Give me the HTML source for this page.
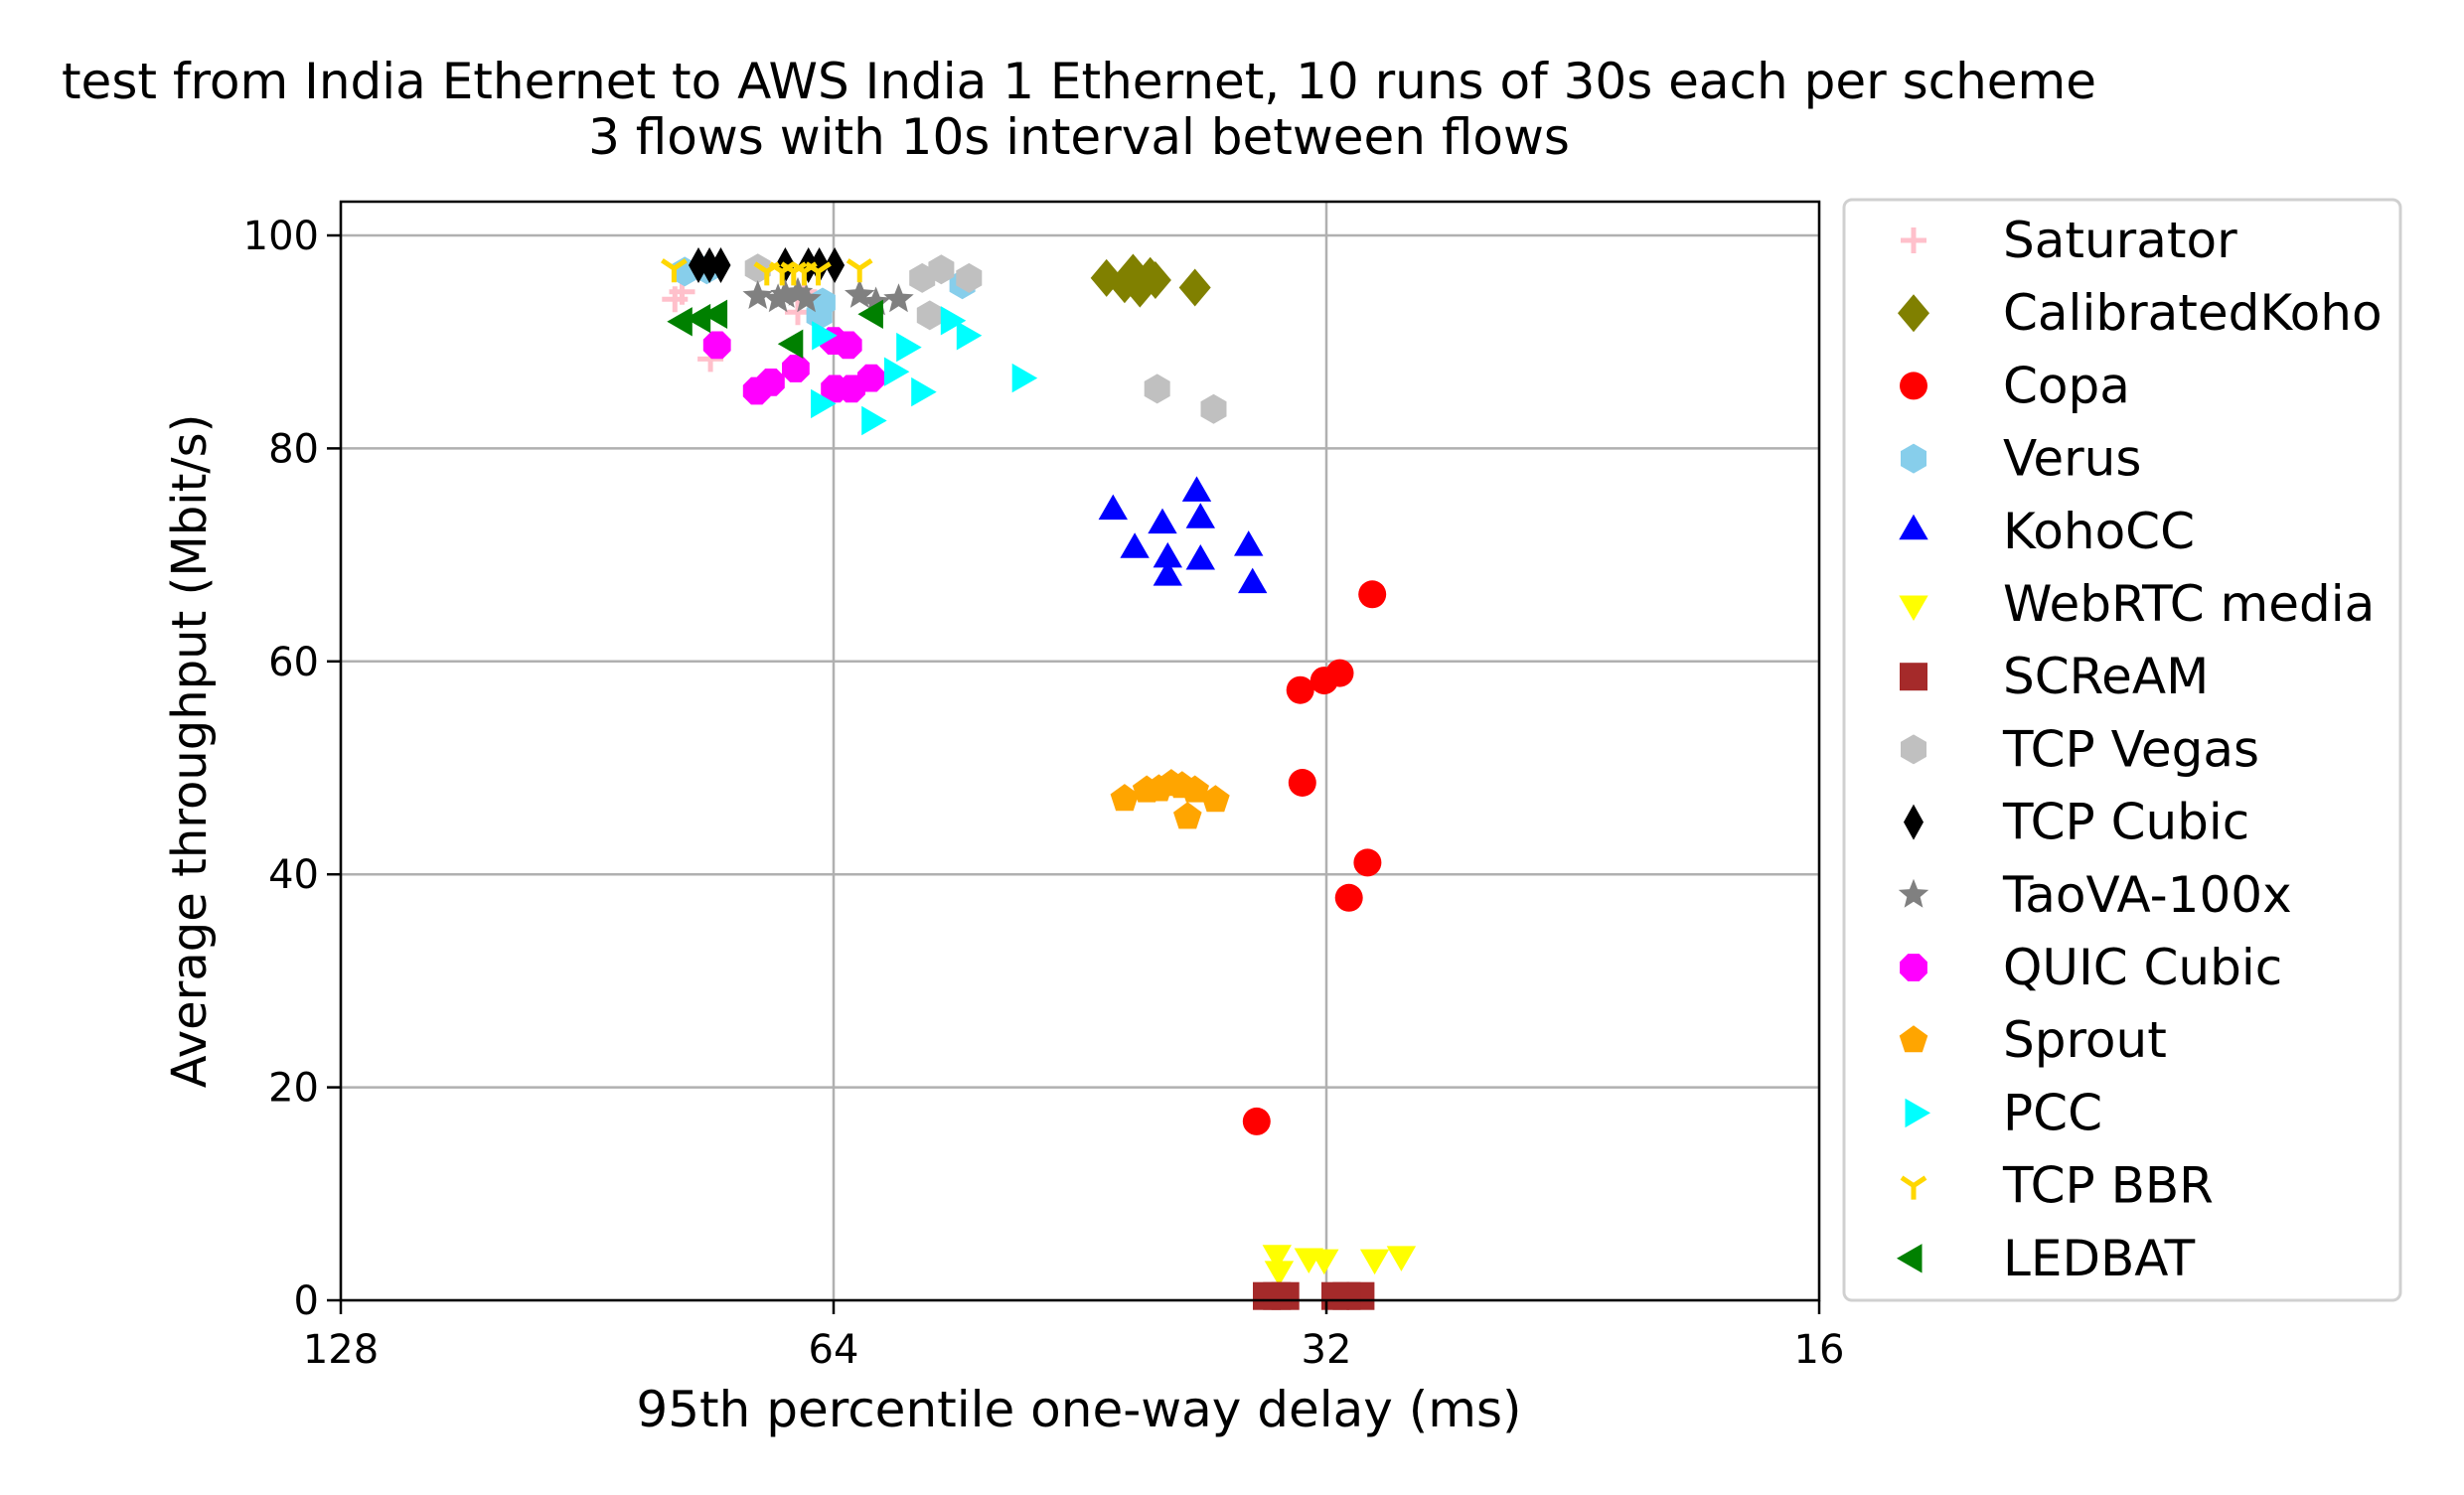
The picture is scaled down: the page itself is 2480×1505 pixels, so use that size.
<!DOCTYPE html>
<html><head><meta charset="utf-8">
<style>
html,body{margin:0;padding:0;background:#fff;}
svg{display:block;}
text{font-family:"DejaVu Sans","Liberation Sans",sans-serif;fill:#000;}
</style></head>
<body>
<svg id="chart" xmlns="http://www.w3.org/2000/svg" width="2480" height="1505" viewBox="0 0 2480 1505">
<rect width="2480" height="1505" fill="#fff"/>
<g id="title">
<text x="1086" y="99" font-size="50" text-anchor="middle">test from India Ethernet to AWS India 1 Ethernet, 10 runs of 30s each per scheme</text>
<text x="1086" y="155" font-size="50" text-anchor="middle">3 flows with 10s interval between flows</text>
</g>
<g id="grid"></g>
<g id="marks"></g>
<rect x="343" y="203" width="1488" height="1106" fill="none" stroke="#000" stroke-width="2.5"/>
<g id="ticks"></g>
<text x="1086" y="1436" font-size="50" text-anchor="middle">95th percentile one-way delay (ms)</text>
<text x="0" y="0" font-size="48" text-anchor="middle" transform="translate(207,756) rotate(-90)">Average throughput (Mbit/s)</text>
<rect x="1856" y="201" width="560" height="1108" rx="8" fill="#fff" stroke="#d0d0d0" stroke-width="3"/>
<g id="legend"></g>
</svg>
<script>
const xTicks = [128, 64, 32, 16];
const yTicks = [0, 20, 40, 60, 80, 100];
const schemes = ["Saturator","CalibratedKoho","Copa","Verus","KohoCC","WebRTC media","SCReAM","TCP Vegas","TCP Cubic","TaoVA-100x","QUIC Cubic","Sprout","PCC","TCP BBR","LEDBAT"];
const colors = ["pink","olive","red","skyblue","blue","yellow","brown","silver","black","gray","magenta","orange","cyan","gold","green"];
const shapes = ["plus","diamond","circle","hexagon","triUp","triDown","square","hexagon","thinDiamond","star","octagon","pentagon","triRight","triY","triLeft"];

const saturatorDelay = [80.0, 79.2, 76.1, 67.3, 66.7];
const saturatorTput = [94.0, 94.7, 88.4, 92.8, 94.7];
const calibratedDelay = [43.6, 42.5, 41.6, 41.0, 42.0, 40.7, 38.5];
const calibratedTput = [96.0, 95.4, 95.0, 96.2, 96.5, 95.8, 95.1];
const copaDelay = [30.0, 31.4, 32.1, 33.2, 33.1, 30.2, 31.0, 35.3];
const copaTput = [66.3, 58.9, 58.2, 57.3, 48.6, 41.1, 37.8, 16.8];
const verusDelay = [78.9, 76.5, 65.0, 65.3, 53.4];
const verusTput = [96.6, 96.8, 93.7, 92.5, 95.4];
const kohoDelay = [43.2, 41.9, 40.3, 40.0, 40.0, 38.4, 38.2, 38.2, 35.7, 35.5];
const kohoTput = [74.1, 70.5, 72.8, 69.6, 67.9, 75.8, 73.3, 69.4, 70.7, 67.2];
const webrtcDelay = [34.3, 34.2, 32.8, 32.1, 29.9, 28.8];
const webrtcTput = [4.4, 2.9, 4.1, 4.0, 4.0, 4.3];
const screamDelay = [34.8, 33.9, 31.6, 30.5, 34.3, 31.1];
const screamTput = [0.4, 0.4, 0.4, 0.4, 0.4, 0.4];
const vegasDelay = [71.2, 56.5, 55.0, 52.9, 55.9, 40.6, 37.5];
const vegasTput = [96.9, 96.0, 96.8, 96.0, 92.5, 85.6, 83.7];
const cubicDelay = [77.4, 76.2, 75.0, 68.5, 66.3, 65.3, 63.9];
const cubicTput = [97.2, 97.2, 97.2, 97.2, 97.2, 97.2, 97.2];
const taovaDelay = [71.2, 69.2, 68.5, 67.3, 66.5, 61.7, 60.3, 58.4];
const taovaTput = [94.3, 94.0, 94.4, 94.6, 94.0, 94.4, 93.7, 94.0];
const quicDelay = [75.4, 71.3, 69.9, 67.5, 64.0, 62.7, 63.9, 62.4, 60.7];
const quicTput = [89.7, 85.4, 86.2, 87.5, 90.1, 89.7, 85.6, 85.6, 86.6];
const sproutDelay = [42.5, 41.2, 40.5, 39.8, 39.2, 38.5, 38.9, 37.4];
const sproutTput = [47.1, 47.9, 48.0, 48.5, 48.3, 47.9, 45.4, 47.0];
const pccDelay = [65.2, 65.3, 60.8, 58.9, 57.9, 56.7, 54.4, 53.2, 49.2];
const pccTput = [90.6, 84.2, 82.6, 87.2, 89.5, 85.3, 92.0, 90.6, 86.6];
const bbrDelay = [80.1, 70.3, 68.8, 67.7, 66.7, 65.4, 61.7];
const bbrTput = [96.9, 96.6, 96.6, 96.6, 96.6, 96.6, 96.9];
const ledbatDelay = [79.0, 77.0, 75.2, 67.6, 60.4];
const ledbatTput = [91.9, 92.2, 92.6, 89.8, 92.6];

const delays = [saturatorDelay, calibratedDelay, copaDelay, verusDelay, kohoDelay, webrtcDelay, screamDelay, vegasDelay, cubicDelay, taovaDelay, quicDelay, sproutDelay, pccDelay, bbrDelay, ledbatDelay];
const tputs = [saturatorTput, calibratedTput, copaTput, verusTput, kohoTput, webrtcTput, screamTput, vegasTput, cubicTput, taovaTput, quicTput, sproutTput, pccTput, bbrTput, ledbatTput];

const NS = "http://www.w3.org/2000/svg";
const X0 = 343, X1 = 1831, Y0 = 1309, YT = 203;
function xScale(d){ return X0 + (X1 - X0) * Math.log2(128 / d) / 3; }
function yScale(v){ return Y0 - (Y0 - 237) * v / 100; }

function poly(n, r, rot){
  const p = [];
  for (let i = 0; i < n; i++){ const a = rot + i * 2 * Math.PI / n; p.push((r*Math.cos(a)).toFixed(1)+","+(r*Math.sin(a)).toFixed(1)); }
  return p.join(" ");
}
function makeMarker(shape, color, cx, cy){
  const g = document.createElementNS(NS, "g");
  g.setAttribute("transform", "translate(" + cx + "," + cy + ")");
  let el;
  const r = 14;
  if (shape === "circle"){ el = document.createElementNS(NS,"circle"); el.setAttribute("r", r); }
  else if (shape === "square"){ el = document.createElementNS(NS,"rect"); el.setAttribute("x",-r); el.setAttribute("y",-r); el.setAttribute("width",2*r); el.setAttribute("height",2*r); }
  else if (shape === "plus" || shape === "triY"){
    el = document.createElementNS(NS,"path");
    el.setAttribute("d", shape === "plus" ? "M-13,0H13M0,-13V13" : "M0,0V14M0,0L-12,-8M0,0L12,-8");
    el.setAttribute("stroke", color); el.setAttribute("stroke-width", 5); el.setAttribute("fill","none");
    g.appendChild(el); return g;
  } else {
    el = document.createElementNS(NS,"polygon");
    let pts;
    if (shape === "diamond") pts = "0,-19 16,0 0,19 -16,0";
    else if (shape === "thinDiamond") pts = "0,-18 10,0 0,18 -10,0";
    else if (shape === "hexagon") pts = poly(6, 15, -Math.PI/2);
    else if (shape === "octagon") pts = poly(8, 15, Math.PI/8);
    else if (shape === "pentagon") pts = poly(5, 15, -Math.PI/2);
    else if (shape === "triUp") pts = poly(3, 17, -Math.PI/2);
    else if (shape === "triDown") pts = poly(3, 17, Math.PI/2);
    else if (shape === "triRight") pts = poly(3, 17, 0);
    else if (shape === "triLeft") pts = poly(3, 17, Math.PI);
    else if (shape === "star"){ const p=[]; for(let i=0;i<10;i++){const a=-Math.PI/2+i*Math.PI/5; const rr=i%2?7:16; p.push((rr*Math.cos(a)).toFixed(1)+","+(rr*Math.sin(a)).toFixed(1));} pts=p.join(" "); }
    el.setAttribute("points", pts);
  }
  el.setAttribute("fill", color);
  g.appendChild(el);
  return g;
}

const grid = document.getElementById("grid");
const ticks = document.getElementById("ticks");
xTicks.forEach(t => {
  const x = xScale(t);
  const l = document.createElementNS(NS,"line");
  l.setAttribute("x1",x); l.setAttribute("x2",x); l.setAttribute("y1",YT); l.setAttribute("y2",Y0);
  l.setAttribute("stroke","#b0b0b0"); l.setAttribute("stroke-width",2.5);
  
  
  grid.appendChild(l);
  const tk = document.createElementNS(NS,"line");
  tk.setAttribute("x1",x); tk.setAttribute("x2",x); tk.setAttribute("y1",Y0); tk.setAttribute("y2",Y0+14);
  tk.setAttribute("stroke","#000"); tk.setAttribute("stroke-width",2.5);
  ticks.appendChild(tk);
  const tx = document.createElementNS(NS,"text");
  tx.setAttribute("x",x); tx.setAttribute("y",Y0+63); tx.setAttribute("font-size",40); tx.setAttribute("text-anchor","middle");
  tx.textContent = t;
  
  
  ticks.appendChild(tx);
});
yTicks.forEach(t => {
  const y = yScale(t);
  const l = document.createElementNS(NS,"line");
  l.setAttribute("x1",X0); l.setAttribute("x2",X1); l.setAttribute("y1",y); l.setAttribute("y2",y);
  l.setAttribute("stroke","#b0b0b0"); l.setAttribute("stroke-width",2.5);
  
  
  grid.appendChild(l);
  const tk = document.createElementNS(NS,"line");
  tk.setAttribute("x1",X0-14); tk.setAttribute("x2",X0); tk.setAttribute("y1",y); tk.setAttribute("y2",y);
  tk.setAttribute("stroke","#000"); tk.setAttribute("stroke-width",2.5);
  ticks.appendChild(tk);
  const tx = document.createElementNS(NS,"text");
  tx.setAttribute("x",X0-22); tx.setAttribute("y",y+14); tx.setAttribute("font-size",40); tx.setAttribute("text-anchor","end");
  tx.textContent = t;
  
  
  ticks.appendChild(tx);
});

const marks = document.getElementById("marks");
schemes.forEach((s, i) => {
  delays[i].forEach((d, j) => {
    const m = makeMarker(shapes[i], colors[i], xScale(d).toFixed(1), yScale(tputs[i][j]).toFixed(1));
    
    
    marks.appendChild(m);
  });
});

const legend = document.getElementById("legend");
schemes.forEach((s, i) => {
  const y = 242 + i * 73.2;
  const g = document.createElementNS(NS,"g");
  
  
  g.appendChild(makeMarker(shapes[i], colors[i], 1926, y));
  const tx = document.createElementNS(NS,"text");
  tx.setAttribute("x",2016); tx.setAttribute("y",y+17); tx.setAttribute("font-size",50);
  tx.textContent = s;
  g.appendChild(tx);
  legend.appendChild(g);
});
</script>
</body></html>
